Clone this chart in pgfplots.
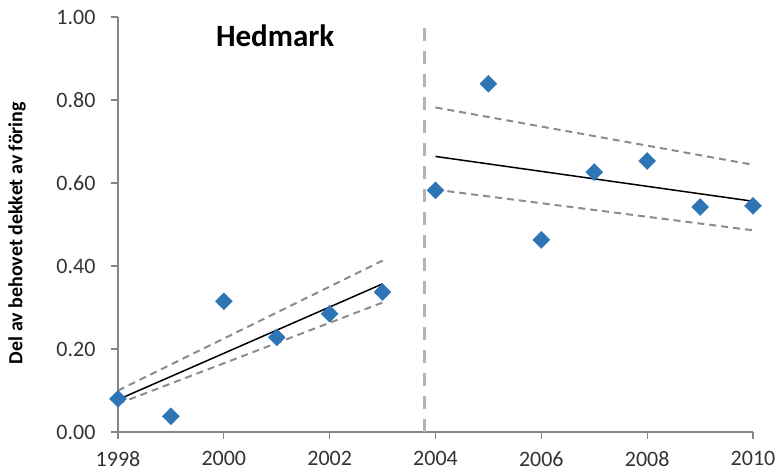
\documentclass[border=0pt]{standalone}
\usepackage{pgfplots}
\pgfplotsset{compat=1.18}
\usepackage{fontspec}
\setmainfont{Carlito}
\definecolor{ptblue}{HTML}{2E75B6}
\definecolor{axgray}{HTML}{868686}
\definecolor{dashgray}{HTML}{8C8C8C}
\definecolor{vgray}{HTML}{B4B4B4}
\begin{document}
\begin{tikzpicture}
\begin{axis}[
  scale only axis,
  width=635pt, height=415pt,
  xmin=1998, xmax=2010, ymin=0, ymax=1,
  axis lines=left,
  axis line style={-, draw=axgray, line width=1.3pt},
  xtick={1998,2000,...,2010},
  ytick={0,0.2,...,1.0},
  tick align=outside,
  major tick length=7pt,
  tick style={draw=none},
  /pgf/number format/assume math mode=true,
  x tick label style={/pgf/number format/1000 sep={}, font=\fontsize{22}{24}\selectfont, text=black!80, yshift=-9pt},
  y tick label style={/pgf/number format/.cd, fixed, fixed zerofill, precision=2, /tikz/.cd, font=\fontsize{22}{24}\selectfont, text=black!80, xshift=-12pt},
  clip=false,
]
% axis ticks
\pgfplotsinvokeforeach{1998,2000,2002,2004,2006,2008,2010}{
  \draw[axgray, line width=1.3pt] (axis cs:#1,0) -- ([yshift=-7pt]axis cs:#1,0);
}
\pgfplotsinvokeforeach{0,0.2,0.4,0.6,0.8,1.0}{
  \draw[axgray, line width=1.3pt] (axis cs:1998,#1) -- ([xshift=-7pt]axis cs:1998,#1);
}
% vertical separator
\addplot[vgray, line width=3pt, dash pattern=on 13pt off 10pt] coordinates {(2003.8,0) (2003.8,0.99)};
% confidence bands
\addplot[dashgray, line width=2pt, dash pattern=on 7pt off 5pt] coordinates {(1998,0.100) (2003,0.413)};
\addplot[dashgray, line width=2pt, dash pattern=on 7pt off 5pt] coordinates {(1998,0.068) (2003,0.312)};
\addplot[dashgray, line width=2pt, dash pattern=on 7pt off 5pt] coordinates {(2004,0.782) (2010,0.644)};
\addplot[dashgray, line width=2pt, dash pattern=on 7pt off 5pt] coordinates {(2004,0.584) (2010,0.486)};
% trend lines
\addplot[black, line width=1.5pt] coordinates {(1998,0.078) (2003,0.357)};
\addplot[black, line width=1.5pt] coordinates {(2004,0.664) (2010,0.556)};
% data
\addplot[only marks, mark=square*, mark size=6pt, mark options={rotate=45, fill=ptblue, draw=ptblue}] coordinates {
(1998,0.080) (1999,0.038) (2000,0.315) (2001,0.228) (2002,0.285) (2003,0.337)
(2004,0.582) (2005,0.839) (2006,0.463) (2007,0.626) (2008,0.653) (2009,0.542) (2010,0.545)
};
\node[font=\fontsize{31}{34}\selectfont\bfseries, anchor=center] at (axis cs:2000.97,0.954) {Hedmark};
\end{axis}
\node[rotate=90, font=\fontsize{20}{24}\selectfont\bfseries, anchor=center] at (-101pt,199pt) {Del av behovet dekket av föring};
\pgfresetboundingbox
\path[use as bounding box] (-118pt,-42pt) rectangle (661pt,432pt);
\end{tikzpicture}
\end{document}
